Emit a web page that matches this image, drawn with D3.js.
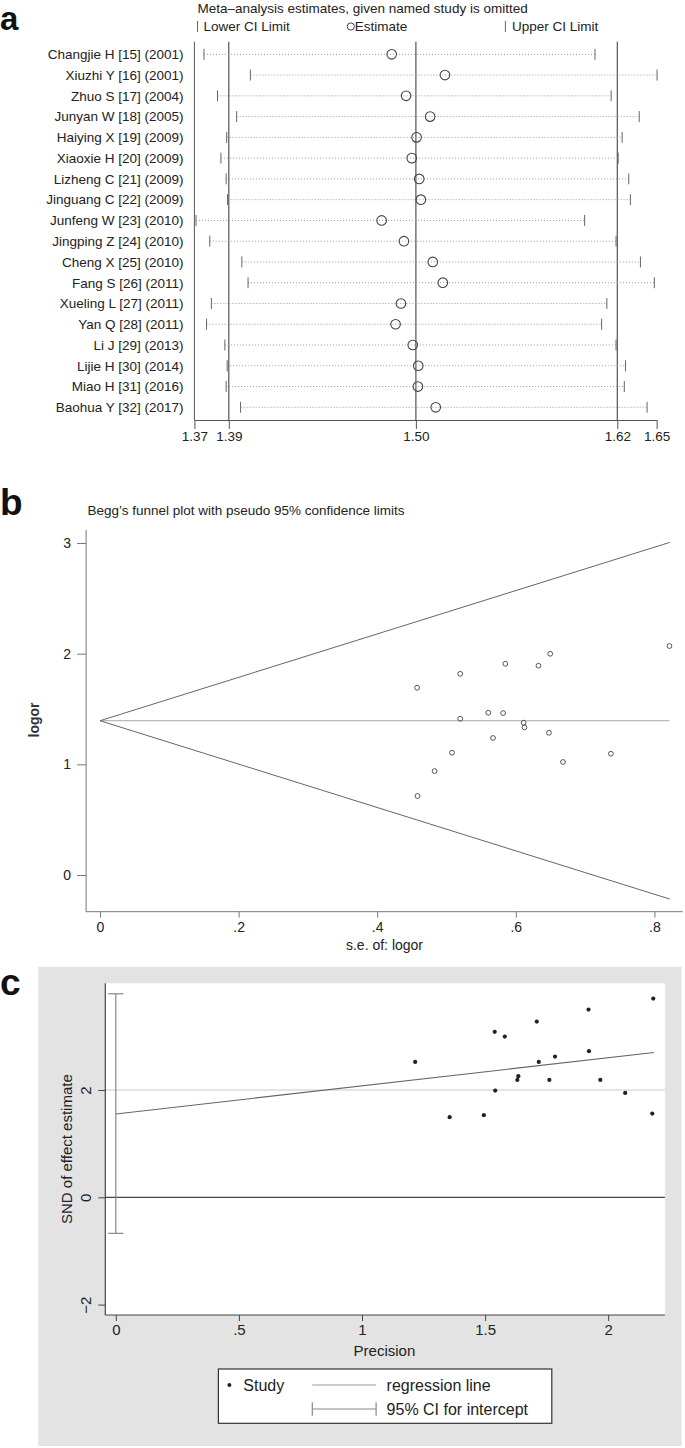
<!DOCTYPE html>
<html><head><meta charset="utf-8">
<script src="https://cdn.jsdelivr.net/npm/d3@7"></script>
<style>
html,body{margin:0;padding:0;background:#fff;}
svg{display:block;font-family:"Liberation Sans",Arial,sans-serif;}
</style></head>
<body>
<script>
// ---------- Panel a: influence analysis ----------
const studies = ["Changjie H [15] (2001)","Xiuzhi Y [16] (2001)","Zhuo S [17] (2004)","Junyan W [18] (2005)",
  "Haiying X [19] (2009)","Xiaoxie H [20] (2009)","Lizheng C [21] (2009)","Jinguang C [22] (2009)",
  "Junfeng W [23] (2010)","Jingping Z [24] (2010)","Cheng X [25] (2010)","Fang S [26] (2011)",
  "Xueling L [27] (2011)","Yan Q [28] (2011)","Li J [29] (2013)","Lijie H [30] (2014)",
  "Miao H [31] (2016)","Baohua Y [32] (2017)"];
const lowerCI  = [1.3753,1.4012,1.3828,1.3935,1.3879,1.3847,1.3876,1.3884,1.3709,1.3785,1.3964,1.3999,1.3794,1.3767,1.3869,1.3882,1.3876,1.3957];
const estimate = [1.4832,1.5153,1.4918,1.5063,1.4981,1.4952,1.4997,1.5007,1.4772,1.4905,1.5079,1.5140,1.4887,1.4855,1.4958,1.4991,1.4989,1.5097];
const upperCI  = [1.6096,1.6503,1.6201,1.6385,1.6273,1.6247,1.6316,1.6327,1.6029,1.6233,1.6393,1.6485,1.6173,1.6139,1.6233,1.6295,1.6287,1.6437];
const refLines = [1.3891,1.4977,1.6241];
const aTickValues = [1.37,1.3891,1.4977,1.6241,1.65];
const aTickLabels = ["1.37","1.39","1.50","1.62","1.65"];

// ---------- Panel b: Begg's funnel ----------
const seLogor = [0.4575,0.5198,0.5849,0.6327,0.6497,0.8217,0.5603,0.5817,0.5198,0.6113,0.6125,0.6478,0.5671,0.5079,0.7372,0.6681,0.4828,0.4582];
const logor   = [1.692,1.818,1.909,1.891,1.999,2.069,1.466,1.463,1.412,1.376,1.334,1.285,1.238,1.105,1.096,1.021,0.939,0.714];
const pooledLogor = 1.394;
const funnelSeMax = 0.822;
const bXTicks = [0,0.2,0.4,0.6,0.8];
const bYTicks = [0,1,2,3];

// ---------- Panel c: Egger's regression ----------
const precision = [2.183,1.920,1.710,1.539,1.580,1.922,1.784,1.216,1.718,1.635,1.631,1.761,1.968,1.541,2.069,1.356,1.495,2.179];
const snd       = [3.705,3.500,3.276,3.084,2.996,2.724,2.623,2.524,2.524,2.257,2.188,2.188,2.188,1.989,1.946,1.493,1.530,1.560];
const eggerIntercept = 1.554;
const eggerSlope = 0.5236;
const interceptCI = [-0.672,3.793];
const regXMax = 2.186;
const cXTicks = [0,0.5,1,1.5,2];
const cXTickLabels = ["0",".5","1","1.5","2"];
const cYTicks = [-2,0,2];
const cYTickLabels = ["\u22122","0","2"];

const W = 685, H = 1448;
const svg = d3.select("body").append("svg").attr("width",W).attr("height",H);

// panel letters
[["a",30,33],["b",515,37],["c",995,37]].forEach(([t,y,s])=>{
  svg.append("text").attr("x",0).attr("y",y).attr("font-size",s).attr("font-weight","bold").attr("fill","#111").text(t);
});

// ===== Panel a =====
const ax = d3.scaleLog().domain([1.37,1.65]).range([194.4,656.6]);
const ay = d3.scalePoint().domain(studies).range([54.3,407.3]);
const aTop = 41.7, aBot = 420;
const ga = svg.append("g");

ga.append("text").attr("x",197.5).attr("y",13).attr("font-size",13.5).attr("fill","#222")
  .text("Meta\u2013analysis estimates, given named study is omitted");
// legend
ga.append("line").attr("x1",197.5).attr("x2",197.5).attr("y1",21).attr("y2",32).attr("stroke","#666");
ga.append("text").attr("x",203.6).attr("y",31).attr("font-size",13.5).attr("fill","#222").text("Lower CI Limit");
ga.append("circle").attr("cx",350.8).attr("cy",26.5).attr("r",3.6).attr("fill","none").attr("stroke","#444");
ga.append("text").attr("x",354.8).attr("y",31).attr("font-size",13.5).attr("fill","#222").text("Estimate");
ga.append("line").attr("x1",505.4).attr("x2",505.4).attr("y1",21).attr("y2",32).attr("stroke","#666");
ga.append("text").attr("x",512).attr("y",31).attr("font-size",13.5).attr("fill","#222").text("Upper CI Limit");

// frame left line
ga.append("line").attr("x1",ax(1.37)).attr("x2",ax(1.37)).attr("y1",aTop).attr("y2",aBot).attr("stroke","#555");
// reference lines
ga.selectAll(".ref").data(refLines).enter().append("line")
  .attr("x1",d=>ax(d)).attr("x2",d=>ax(d)).attr("y1",aTop).attr("y2",aBot).attr("stroke","#444").attr("stroke-width",1.1);
// axis
const aAxis = d3.axisBottom(ax).tickValues(aTickValues).tickFormat((d,i)=>aTickLabels[i]).tickSize(9).tickSizeOuter(0);
const aAxG = ga.append("g").attr("transform",`translate(0,${aBot})`).call(aAxis);
aAxG.select(".domain").attr("stroke","#555");
aAxG.selectAll(".tick line").attr("stroke","#555");
aAxG.selectAll(".tick text").attr("font-size",13.5).attr("fill","#222").attr("font-family","Liberation Sans, Arial, sans-serif").attr("dy","0.9em").attr("y",9);

const rows = ga.selectAll(".row").data(studies).enter().append("g");
rows.append("line").attr("x1",(d,i)=>ax(lowerCI[i])).attr("x2",(d,i)=>ax(upperCI[i]))
  .attr("y1",d=>ay(d)).attr("y2",d=>ay(d)).attr("stroke","#999").attr("stroke-dasharray","1,2");
rows.append("line").attr("x1",(d,i)=>ax(lowerCI[i])).attr("x2",(d,i)=>ax(lowerCI[i]))
  .attr("y1",d=>ay(d)-5.5).attr("y2",d=>ay(d)+5.5).attr("stroke","#666");
rows.append("line").attr("x1",(d,i)=>ax(upperCI[i])).attr("x2",(d,i)=>ax(upperCI[i]))
  .attr("y1",d=>ay(d)-5.5).attr("y2",d=>ay(d)+5.5).attr("stroke","#666");
rows.append("circle").attr("cx",(d,i)=>ax(estimate[i])).attr("cy",d=>ay(d)).attr("r",4.8)
  .attr("fill","#fff").attr("fill-opacity",0).attr("stroke","#444").attr("stroke-width",1.1);
rows.append("text").attr("x",183.5).attr("y",d=>ay(d)+4.8).attr("text-anchor","end")
  .attr("font-size",13.5).attr("fill","#222").text(d=>d);

// ===== Panel b =====
const bx = d3.scaleLinear().domain([0,0.2]).range([100,238.6]);
const by = d3.scaleLinear().domain([0,3]).range([875,543]);
const bLeft = 86.1, bRight = 682.8, bTop = 530, bBot = 911.7;
const gb = svg.append("g");
gb.append("text").attr("x",87.4).attr("y",515).attr("font-size",13.5).attr("fill","#222")
  .text("Begg\u2019s funnel plot with pseudo 95% confidence limits");
gb.append("line").attr("x1",bLeft).attr("x2",bLeft).attr("y1",bTop).attr("y2",bBot).attr("stroke","#777");
gb.append("line").attr("x1",bLeft).attr("x2",bRight).attr("y1",bBot).attr("y2",bBot).attr("stroke","#777");
const bYAxis = d3.axisLeft(by).tickValues(bYTicks).tickFormat(d3.format("d")).tickSize(9).tickSizeOuter(0);
const bYG = gb.append("g").attr("transform",`translate(${bLeft},0)`).call(bYAxis);
bYG.select(".domain").remove();
bYG.selectAll(".tick line").attr("stroke","#777");
bYG.selectAll(".tick text").attr("font-size",14).attr("fill","#222").attr("font-family","Liberation Sans, Arial, sans-serif").attr("x",-15);
const bXAxis = d3.axisBottom(bx).tickValues(bXTicks).tickFormat(d=>d===0?"0":d3.format(".1f")(d).replace(/^0/,"")).tickSize(6).tickSizeOuter(0);
const bXG = gb.append("g").attr("transform",`translate(0,${bBot})`).call(bXAxis);
bXG.select(".domain").remove();
bXG.selectAll(".tick line").attr("stroke","#777");
bXG.selectAll(".tick text").attr("font-size",14).attr("fill","#222").attr("font-family","Liberation Sans, Arial, sans-serif").attr("y",10);
gb.append("text").attr("x",384.5).attr("y",950).attr("text-anchor","middle").attr("font-size",14).attr("fill","#222").text("s.e. of: logor");
gb.append("text").attr("transform","translate(39,720) rotate(-90)").attr("text-anchor","middle")
  .attr("font-size",14).attr("font-weight","bold").attr("fill","#333").text("logor");
// funnel lines
gb.append("line").attr("x1",bx(0)).attr("x2",bx(funnelSeMax)).attr("y1",by(pooledLogor)).attr("y2",by(pooledLogor)).attr("stroke","#aaa");
gb.append("line").attr("x1",bx(0)).attr("x2",bx(funnelSeMax)).attr("y1",by(pooledLogor)).attr("y2",by(pooledLogor+1.96*funnelSeMax)).attr("stroke","#666");
gb.append("line").attr("x1",bx(0)).attr("x2",bx(funnelSeMax)).attr("y1",by(pooledLogor)).attr("y2",by(pooledLogor-1.96*funnelSeMax)).attr("stroke","#666");
gb.selectAll(".pt").data(seLogor).enter().append("circle")
  .attr("cx",d=>bx(d)).attr("cy",(d,i)=>by(logor[i])).attr("r",2.4)
  .attr("fill","none").attr("stroke","#444").attr("stroke-width",0.9);

// ===== Panel c =====
const cx = d3.scaleLinear().domain([0,0.5]).range([115.8,238.9]);
const cy = d3.scaleLinear().domain([0,2]).range([1197.3,1090]);
const cL = 105.3, cR = 664.9, cT = 983.3, cB = 1315;
const gc = svg.append("g");
gc.append("rect").attr("x",38.3).attr("y",966.7).attr("width",681.5-38.3).attr("height",1446-966.7).attr("fill","#e3e3e3");
gc.append("rect").attr("x",cL).attr("y",cT).attr("width",cR-cL).attr("height",cB-cT).attr("fill","#fff");
gc.append("line").attr("x1",cL).attr("x2",cR).attr("y1",cy(2)).attr("y2",cy(2)).attr("stroke","#c8c8c8");
gc.append("line").attr("x1",cL).attr("x2",cR).attr("y1",cy(0)).attr("y2",cy(0)).attr("stroke","#444").attr("stroke-width",1.2);
gc.append("line").attr("x1",cL).attr("x2",cL).attr("y1",cT).attr("y2",cB).attr("stroke","#444").attr("stroke-width",1.2);
gc.append("line").attr("x1",cL).attr("x2",cR).attr("y1",cB).attr("y2",cB).attr("stroke","#444").attr("stroke-width",1.2);
const cYAxis = d3.axisLeft(cy).tickValues(cYTicks).tickFormat((d,i)=>cYTickLabels[i]).tickSize(7).tickSizeOuter(0);
const cYG = gc.append("g").attr("transform",`translate(${cL},0)`).call(cYAxis);
cYG.select(".domain").remove();
cYG.selectAll(".tick line").attr("stroke","#444");
cYG.selectAll(".tick text").attr("font-size",15).attr("fill","#222").attr("font-family","Liberation Sans, Arial, sans-serif")
  .attr("x",null).attr("dy",null).attr("text-anchor","middle").attr("transform","translate(-14,0) rotate(-90)");
const cXAxis = d3.axisBottom(cx).tickValues(cXTicks).tickFormat((d,i)=>cXTickLabels[i]).tickSize(6).tickSizeOuter(0);
const cXG = gc.append("g").attr("transform",`translate(0,${cB})`).call(cXAxis);
cXG.select(".domain").remove();
cXG.selectAll(".tick line").attr("stroke","#444");
cXG.selectAll(".tick text").attr("font-size",15).attr("fill","#222").attr("font-family","Liberation Sans, Arial, sans-serif").attr("y",9);
gc.append("text").attr("x",384.4).attr("y",1356).attr("text-anchor","middle").attr("font-size",15).attr("fill","#222").text("Precision");
gc.append("text").attr("transform",`translate(71.5,${(cT+cB)/2}) rotate(-90)`).attr("text-anchor","middle")
  .attr("font-size",15).attr("fill","#222").text("SND of effect estimate");
// CI for intercept
gc.append("line").attr("x1",cx(0)).attr("x2",cx(0)).attr("y1",cy(interceptCI[0])).attr("y2",cy(interceptCI[1])).attr("stroke","#888").attr("stroke-width",1.2);
interceptCI.forEach(v=>{
  gc.append("line").attr("x1",cx(0)-7.6).attr("x2",cx(0)+7.6).attr("y1",cy(v)).attr("y2",cy(v)).attr("stroke","#888").attr("stroke-width",1.2);
});
// regression line
gc.append("line").attr("x1",cx(0)).attr("x2",cx(regXMax))
  .attr("y1",cy(eggerIntercept)).attr("y2",cy(eggerIntercept+eggerSlope*regXMax)).attr("stroke","#666").attr("stroke-width",1.1);
gc.selectAll(".dot").data(precision).enter().append("circle")
  .attr("cx",d=>cx(d)).attr("cy",(d,i)=>cy(snd[i])).attr("r",2.1).attr("fill","#222");
// legend
const lg = gc.append("g");
lg.append("rect").attr("x",218.4).attr("y",1369).attr("width",551.8-218.4).attr("height",1423.3-1369).attr("fill","#fff").attr("stroke","#333").attr("stroke-width",1.2);
lg.append("circle").attr("cx",229.4).attr("cy",1385).attr("r",2).attr("fill","#222");
lg.append("text").attr("x",243.3).attr("y",1390.5).attr("font-size",16).attr("fill","#222").text("Study");
lg.append("line").attr("x1",312.3).attr("x2",376.1).attr("y1",1385).attr("y2",1385).attr("stroke","#999").attr("stroke-width",1.2);
lg.append("text").attr("x",386.6).attr("y",1390.5).attr("font-size",16).attr("fill","#222").text("regression line");
lg.append("line").attr("x1",312.3).attr("x2",376.1).attr("y1",1409).attr("y2",1409).attr("stroke","#888").attr("stroke-width",1.2);
[312.3,376.1].forEach(x=>lg.append("line").attr("x1",x).attr("x2",x).attr("y1",1402.3).attr("y2",1415.7).attr("stroke","#888").attr("stroke-width",1.2));
lg.append("text").attr("x",386.6).attr("y",1414.5).attr("font-size",16).attr("fill","#222").text("95% CI for intercept");
</script>
</body></html>
